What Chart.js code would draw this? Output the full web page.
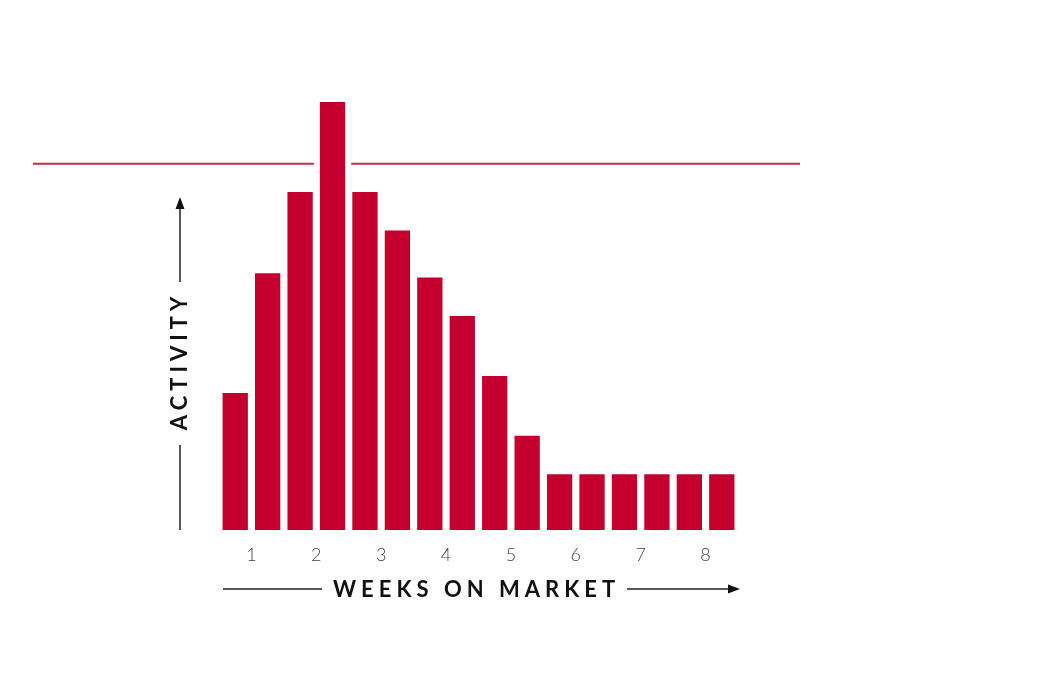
<!DOCTYPE html>
<html>
<head>
<meta charset="utf-8">
<script src="https://cdn.jsdelivr.net/npm/chart.js@4.4.1/dist/chart.umd.min.js"></script>
<style>
  body { margin: 0; background: #fff; }
  #wrap { width: 1040px; height: 683px; }
</style>
</head>
<body>
<div id="wrap"><canvas id="grafica"></canvas></div>
<script>
// half-week periods, two bars per week
const periodos = ['1a', '1b', '2a', '2b', '3a', '3b', '4a', '4b', '5a', '5b', '6a', '6b', '7a', '7b', '8a', '8b'];
const actividad = [32, 60, 79, 100, 79, 70, 59, 50, 36, 22, 13, 13, 13, 13, 13, 13];
const semanas = ['1', '2', '3', '4', '5', '6', '7', '8'];
const umbral = 85.6;

const rojo = '#c4002f';

// reference line across the chart, broken where a bar pokes through
const lineaUmbral = {
    id: 'lineaUmbral',
    afterDatasetsDraw(chart) {
        const { ctx, chartArea } = chart;
        const y = chart.scales.y.getPixelForValue(umbral);
        const x0 = chartArea.left - 186;
        const x1 = chartArea.right + 62;
        const huecos = [];
        chart.getDatasetMeta(0).data.forEach(bar => {
            if (bar.y < y) huecos.push([bar.x - bar.width / 2 - 6, bar.x + bar.width / 2 + 6]);
        });
        ctx.save();
        ctx.strokeStyle = '#cc2a44';
        ctx.lineWidth = 2;
        let inicio = x0;
        ctx.beginPath();
        huecos.forEach(h => {
            ctx.moveTo(inicio, y);
            ctx.lineTo(h[0], y);
            inicio = h[1];
        });
        ctx.moveTo(inicio, y);
        ctx.lineTo(x1, y);
        ctx.stroke();
        ctx.restore();
    }
};

// axis titles with arrows
const titulos = {
    id: 'titulos',
    afterDraw(chart) {
        const { ctx, chartArea } = chart;
        const izq = chartArea.left + 3;
        ctx.save();
        ctx.fillStyle = '#111';
        ctx.strokeStyle = '#222';
        ctx.lineWidth = 1.5;
        ctx.font = 'bold 22px Lato';
        ctx.letterSpacing = '5px';
        ctx.textBaseline = 'middle';

        // x title
        const ty = chartArea.bottom + 59;
        ctx.textAlign = 'left';
        ctx.fillText('WEEKS ON MARKET', izq + 111, ty + 1);
        ctx.beginPath();
        ctx.moveTo(izq + 1, ty);
        ctx.lineTo(izq + 100, ty);
        ctx.moveTo(izq + 405, ty);
        ctx.lineTo(chartArea.right - 3, ty);
        ctx.stroke();
        ctx.beginPath();
        ctx.moveTo(chartArea.right + 2, ty);
        ctx.lineTo(chartArea.right - 10, ty - 4.5);
        ctx.lineTo(chartArea.right - 10, ty + 4.5);
        ctx.closePath();
        ctx.fill();

        // y title
        const tx = izq - 42;
        ctx.beginPath();
        ctx.moveTo(tx, chartArea.bottom);
        ctx.lineTo(tx, chartArea.bottom - 85);
        ctx.moveTo(tx, chartArea.bottom - 248);
        ctx.lineTo(tx, chartArea.bottom - 325);
        ctx.stroke();
        ctx.beginPath();
        ctx.moveTo(tx, chartArea.bottom - 333);
        ctx.lineTo(tx - 4.5, chartArea.bottom - 321);
        ctx.lineTo(tx + 4.5, chartArea.bottom - 321);
        ctx.closePath();
        ctx.fill();

        ctx.translate(tx, chartArea.bottom - 167);
        ctx.rotate(-Math.PI / 2);
        ctx.textAlign = 'center';
        ctx.fillText('ACTIVITY', 2, 0);
        ctx.restore();
    }
};

const grafica = new Chart(document.getElementById('grafica').getContext('2d'), {
    type: 'bar',
    data: {
        labels: periodos,
        datasets: [{
            data: actividad,
            backgroundColor: rojo,
            barPercentage: 0.78,
            categoryPercentage: 1
        }]
    },
    options: {
        responsive: true,
        maintainAspectRatio: false,
        animation: false,
        layout: { padding: { left: 219, right: 302, top: 102, bottom: 113 } },
        plugins: { legend: { display: false }, tooltip: { enabled: false } },
        scales: {
            x: { display: false },
            semanas: {
                type: 'linear',
                position: 'bottom',
                offset: false,
                min: 0,
                max: 16,
                grid: { display: false, offset: false },
                border: { display: false },
                afterBuildTicks: axis => {
                    axis.ticks = semanas.map((s, i) => ({ value: 2 * i + 1 }));
                },
                afterFit: axis => { axis.height = 40; },
                ticks: {
                    padding: 6,
                    color: '#444',
                    font: { family: 'Lato', size: 18, weight: 300 },
                    callback: (v) => semanas[(v - 1) / 2]
                }
            },
            y: { display: false, min: 0, max: 100 }
        }
    },
    plugins: [lineaUmbral, titulos]
});
</script>
</body>
</html>
